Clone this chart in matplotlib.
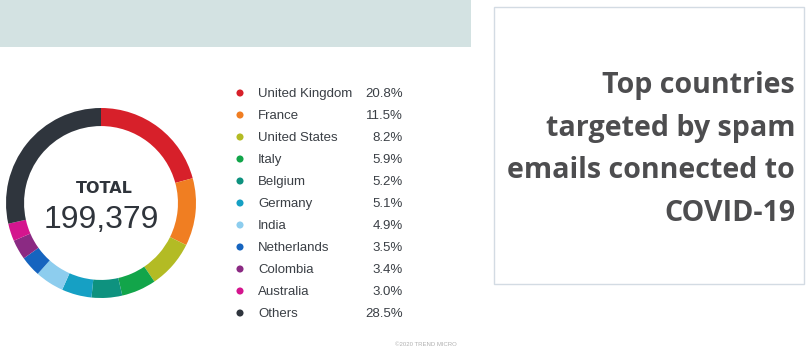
import matplotlib.pyplot as plt
from matplotlib.patches import Rectangle

# data
countries = ["United Kingdom", "France", "United States", "Italy", "Belgium",
             "Germany", "India", "Netherlands", "Colombia", "Australia", "Others"]
shares = [20.8, 11.5, 8.2, 5.9, 5.2, 5.1, 4.9, 3.5, 3.4, 3.0, 28.5]
colors = ["#d7202a", "#f07e22", "#b3bb24", "#12a54a", "#0e927f", "#16a0c4",
          "#8dcdee", "#1664bf", "#8b2a83", "#d4158e", "#2f353d"]
total = 199379
title_lines = ["Top countries", "targeted by spam", "emails connected to", "COVID-19"]

W, H = 807, 355
fig = plt.figure(figsize=(W / 100, H / 100), dpi=100)


def box(x0, y0, x1, y1):
    # pixel box (top-down) -> figure fraction
    return [x0 / W, 1 - y1 / H, (x1 - x0) / W, (y1 - y0) / H]


# background layer in pixel units
bg = fig.add_axes([0, 0, 1, 1])
bg.set_xlim(0, W)
bg.set_ylim(H, 0)
bg.axis('off')
bg.add_patch(Rectangle((0, 0), 471, 47, color='#d3e2e2', lw=0))
bg.add_patch(Rectangle((493.5, 6.5), 310, 277.5, fill=False, ec='#d3dbe3', lw=1))
for i, line in enumerate(title_lines):
    bg.text(795, 93 + 42.6 * i, line, ha='right', va='baseline', fontsize=20.6,
            fontweight='bold', family='Open Sans', color='#4d4d4f')
bg.text(426, 346, '©2020 TREND MICRO', ha='center', va='baseline', fontsize=4.3,
        family='Liberation Sans', color='#b0b0b0')

# donut
ax = fig.add_axes(box(6, 108, 196, 298))
ax.pie(shares, colors=colors, startangle=90, counterclock=False, radius=1,
       wedgeprops=dict(width=0.19, linewidth=0))
ax.set_xlim(-1, 1)
ax.set_ylim(-1, 1)
ax.set_aspect('equal')
ax.axis('off')
ax.text(0.035, 0.108, 'TOTAL', ha='center', va='baseline', fontsize=11.5,
        fontweight='bold', family='DejaVu Sans', color='#2f343b')
ax.text(0.005, -0.266, f'{total:,}', ha='center', va='baseline', fontsize=23,
        family='Liberation Sans', color='#2f343b')

# legend
lg = fig.add_axes(box(232, 82, 412, 324))
lg.set_xlim(232, 412)
lg.set_ylim(len(countries) - 0.5, -0.5)
lg.axis('off')
rows = list(range(len(countries)))
lg.scatter([240] * len(rows), rows, s=26, c=colors, linewidths=0)
for i, (name, val) in enumerate(zip(countries, shares)):
    lg.text(258, i + 0.2, name, ha='left', va='baseline', fontsize=9.5,
            family='Liberation Sans', color='#3a3f45')
    lg.text(403, i + 0.2, f'{val:.1f}%', ha='right', va='baseline', fontsize=9.5,
            family='Liberation Sans', color='#3a3f45')

fig.savefig('out.png', dpi=100)
